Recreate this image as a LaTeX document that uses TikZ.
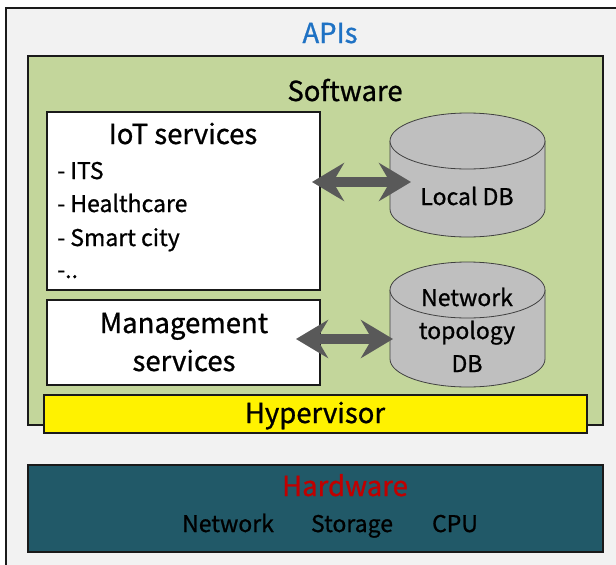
\documentclass[tikz,border=0pt]{standalone}
\usepackage{fontspec}
\setmainfont{Noto Sans CJK JP}[RawFeature={embolden=0.9}]
\usetikzlibrary{arrows.meta,shadows}
\definecolor{outerbg}{HTML}{F2F2F2}
\definecolor{apiblue}{HTML}{1F72C4}
\definecolor{swgreen}{HTML}{C3D69B}
\definecolor{hwteal}{HTML}{215968}
\definecolor{hwred}{HTML}{C00000}
\definecolor{arrgray}{HTML}{595959}
\definecolor{dbgray}{HTML}{BFBFBF}
\definecolor{edge}{HTML}{1A1A1A}
\tikzset{
  box/.style={draw=edge, line width=1.6pt, drop shadow={shadow xshift=1.2pt, shadow yshift=-1.2pt, opacity=0.45}},
  big/.style={font=\fontsize{27.5}{32}\selectfont, inner sep=0pt, anchor=base},
  mid/.style={font=\fontsize{23}{27}\selectfont, inner sep=0pt, anchor=base},
  fatarrow/.style={line width=10pt, draw=arrgray, {Stealth[length=32pt,width=38pt,inset=11pt]}-{Stealth[length=32pt,width=38pt,inset=11pt]}},
  dbcyl/.style={fill=dbgray, draw=black!75, line width=0.8pt},
}
\begin{document}
\begin{tikzpicture}[x=1pt,y=-1pt]
\useasboundingbox (0,0) rectangle (616,565);
% outer frame
\fill[outerbg] (6,8) rectangle (630,580);
\draw[edge, line width=2pt] (6,580) -- (6,8) -- (630,8);
\node[big, text=apiblue] (apis) at (330,43) {APIs};
% software
\draw[box, fill=swgreen] (28,56) rectangle (603,425);
\node[big] (sw) at (345,101) {Software};
% IoT services
\draw[box, fill=white] (47,112) rectangle (320,290);
\node[big] (iot) at (183,144) {IoT services};
\node[mid, anchor=base west] (its) at (57,179) {- ITS};
\node[mid, anchor=base west] (hc) at (57,212) {- Healthcare};
\node[mid, anchor=base west] (sc) at (57,246) {- Smart city};
\node[mid, anchor=base west] (etc) at (57,278) {-..};
% management
\draw[box, fill=white] (47,300) rectangle (320,385);
\node[big] (mgmt1) at (184,333) {Management};
\node[big] (mgmt2) at (184,371) {services};
% Local DB cylinder
\draw[dbcyl] (390,141) -- (390,209) arc[start angle=180, end angle=0, x radius=77.5, y radius=28] -- (545,141);
\draw[dbcyl] (467.5,141) ellipse[x radius=77.5, y radius=28];
\node[mid] (ldb) at (467,205) {Local DB};
% Network topology DB cylinder
\draw[dbcyl] (390,290) -- (390,359) arc[start angle=180, end angle=0, x radius=77.5, y radius=28] -- (545,290);
\draw[dbcyl] (467.5,290) ellipse[x radius=77.5, y radius=28];
\node[mid] (ndb1) at (467,306) {Network};
\node[mid] (ndb2) at (467,339) {topology};
\node[mid] (ndb3) at (467,372) {DB};
% arrows
\coordinate (a1) at (312,182);
\coordinate (a2) at (411,182);
\draw[fatarrow] (a1) -- (a2);
\coordinate (b1) at (296,339);
\coordinate (b2) at (393,339);
\draw[fatarrow] (b1) -- (b2);
% hypervisor
\draw[box, fill=yellow] (44,395) rectangle (587,433);
\node[big] (hyp) at (315,423) {Hypervisor};
% hardware
\draw[box, fill=hwteal] (28,465) rectangle (603,552);
\node[big, text=hwred] (hw) at (345,496) {Hardware};
\node[mid] (net) at (228,532) {Network};
\node[mid] (sto) at (352,532) {Storage};
\node[mid] (cpu) at (455,532) {CPU};
\end{tikzpicture}
\end{document}
